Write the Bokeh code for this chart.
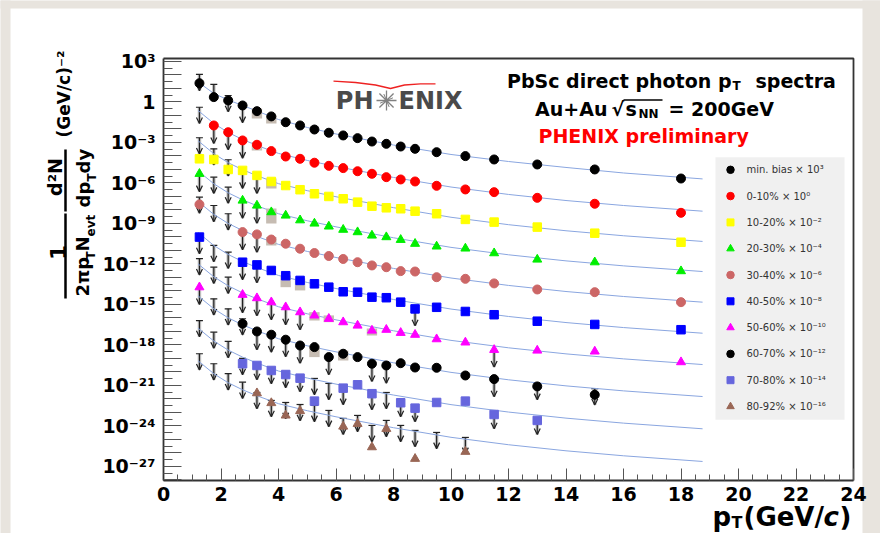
import math
from bokeh.plotting import figure
from bokeh.models import Range1d, FixedTicker, ColumnDataSource, Label, Arrow, OpenHead
from bokeh.embed import file_html
from bokeh.resources import INLINE

# ------------------------------------------------------------------ data
x_ticks = [0, 2, 4, 6, 8, 10, 12, 14, 16, 18, 20, 22, 24]
x_minor = [i * 0.5 for i in range(49)]
y_label_exp = [3, 0, -3, -6, -9, -12, -15, -18, -21, -24, -27]
y_decades = list(range(-28, 4))

# fit curves (log10 values)
fit_pt = [1.2, 1.75, 2.25, 2.75, 3.25, 4.0, 5.0, 6.0, 8.0, 10.0, 12.0, 14.0, 16.0, 18.75]
fit_minbias_log = [1.48, 0.63, 0.15, -0.26, -0.67, -1.30, -1.89, -2.37, -3.19, -3.89, -4.41, -4.85, -5.26, -5.70]
fit_0_10_log = [-0.63, -1.59, -2.26, -2.78, -3.22, -3.81, -4.33, -4.78, -5.59, -6.30, -6.85, -7.30, -7.67, -8.09]
# vertical level of each centrality curve relative to the 0-10% one (decades)
fit_offset = [None, 0.0, -2.24, -4.47, -6.74, -9.04, -11.36, -13.73, -16.12, -18.54]

legend_labels = ["min. bias \u00d7 10\u00b3", "0-10% \u00d7 10\u2070", "10-20% \u00d7 10\u207b\u00b2",
                 "20-30% \u00d7 10\u207b\u2074", "30-40% \u00d7 10\u207b\u2076", "40-50% \u00d7 10\u207b\u2078",
                 "50-60% \u00d7 10\u207b\u00b9\u2070", "60-70% \u00d7 10\u207b\u00b9\u00b2",
                 "70-80% \u00d7 10\u207b\u00b9\u2074", "80-92% \u00d7 10\u207b\u00b9\u2076"]

pt_all = [1.25, 1.75, 2.25, 2.75, 3.25, 3.75, 4.25, 4.75, 5.25, 5.75, 6.25, 6.75,
          7.25, 7.75, 8.25, 8.75, 9.5, 10.5, 11.5, 13.0, 15.0, 18.0]
pt_from_275 = [1.25, 2.75, 3.25, 3.75, 4.25, 4.75, 5.25, 5.75, 6.25, 6.75,
               7.25, 7.75, 8.25, 8.75, 9.5, 10.5, 11.5, 13.0, 15.0, 18.0]

# min. bias x 10^3
minbias_pt = pt_all
minbias_log = [1.39, 0.36, 0.11, -0.26, -0.68, -1.07, -1.50, -1.74, -2.04, -2.28, -2.48, -2.68,
               -2.93, -3.10, -3.30, -3.47, -3.72, -4.01, -4.26, -4.63, -5.00, -5.67]
minbias_ul_pt = [1.25, 1.75, 2.25, 2.75]
minbias_ul_log = [2.04, 1.30, 0.48, -0.33]
minbias_sys = ([3.25, 3.75], [-1.22, -1.59], [-0.48, -1.00])

# 0-10% x 10^0
c0_10_pt = pt_all[1:]
c0_10_log = [-1.74, -2.24, -2.85, -3.17, -3.64, -4.04, -4.21, -4.50, -4.73, -4.90, -5.13,
             -5.32, -5.57, -5.74, -5.89, -6.21, -6.48, -6.68, -7.10, -7.54, -8.21]
c0_10_ul_pt = [1.25, 1.75, 2.25, 2.75]
c0_10_ul_log = [-0.39, -1.87, -2.33, -2.96]
c0_10_sys = ([3.25], [-3.59], [-2.98])

# 10-20% x 10^-2
c10_20_pt = pt_all
c10_20_log = [-4.21, -4.26, -5.00, -5.07, -5.44, -5.89, -6.19, -6.50, -6.80, -7.00, -7.17, -7.42,
              -7.72, -7.84, -7.91, -8.09, -8.28, -8.70, -8.90, -9.27, -9.72, -10.39]
c10_20_ul_pt = [1.25, 1.75, 2.25, 2.75, 3.25]
c10_20_ul_log = [-2.65, -3.47, -4.28, -5.20, -5.57]
c10_20_sys = ([3.75], [-6.41], [-5.67])

# 20-30% x 10^-4
c20_30_pt = pt_from_275
c20_30_log = [-5.32, -7.30, -7.67, -8.16, -8.41, -8.76, -9.00, -9.22, -9.46, -9.64, -9.89,
              -10.01, -10.21, -10.50, -10.70, -10.85, -11.20, -11.67, -11.87, -12.53]
c20_30_ul_pt = [1.25, 1.75, 2.25, 2.75, 3.25]
c20_30_ul_log = [-5.44, -5.57, -6.31, -7.42, -7.79]
c20_30_sys = ([3.75], [-9.00], [-7.89])

# 30-40% x 10^-6
c30_40_pt = pt_from_275
c30_40_log = [-7.59, -9.64, -9.81, -10.19, -10.50, -10.87, -11.19, -11.41, -11.63, -11.87, -12.11,
              -12.24, -12.53, -12.56, -12.98, -13.10, -13.44, -13.89, -14.09, -14.83]
c30_40_ul_pt = [1.25, 1.75, 2.25, 2.75, 3.25]
c30_40_ul_log = [-7.05, -7.67, -8.28, -9.74, -9.93]
c30_40_sys = ([3.75], [-10.63], [-10.01])

# 40-50% x 10^-8
c40_50_pt = pt_from_275
c40_50_log = [-10.01, -11.87, -12.07, -12.48, -12.87, -13.22, -13.47, -13.72, -14.06, -14.09, -14.46,
              -14.50, -14.83, -15.33, -15.21, -15.52, -15.76, -16.24, -16.48, -16.87]
c40_50_ul_pt = [1.25, 1.75, 2.25, 2.75, 3.25, 8.75]
c40_50_ul_log = [-10.04, -10.63, -11.13, -11.96, -12.19, -15.37]
c40_50_sys = ([4.25, 4.75], [-13.72, -13.96], [-12.85, -13.07])

# 50-60% x 10^-10
c50_60_pt = pt_from_275
c50_60_log = [-13.72, -14.28, -14.53, -14.83, -15.20, -15.57, -15.81, -16.06, -16.31, -16.56, -16.93,
              -16.87, -17.10, -17.24, -17.57, -17.81, -18.36, -18.41, -18.48, -19.27]
c50_60_ul_pt = [1.25, 1.75, 2.25, 2.75, 3.25, 3.75, 4.25, 4.75, 11.5]
c50_60_ul_log = [-11.61, -12.24, -12.98, -14.41, -14.63, -14.93, -15.30, -15.67, -18.44]
c50_60_sys = ([5.25, 5.75, 7.25], [-16.19, -16.31, -17.30], [-15.57, -15.81, -16.78])

# 60-70% x 10^-12
c60_70_pt = [2.75, 3.25, 3.75, 4.25, 4.75, 5.25, 5.75, 6.25, 6.75, 7.25, 7.75, 8.25,
             8.75, 9.5, 10.5, 11.5, 13.0, 15.0]
c60_70_log = [-16.43, -17.00, -17.24, -17.61, -18.04, -18.16, -18.90, -18.65, -18.90, -19.39,
              -19.52, -19.35, -19.67, -19.69, -20.26, -20.53, -21.07, -21.69]
c60_70_ul_pt = [1.25, 1.75, 2.25, 2.75, 3.25, 3.75, 4.25, 4.75, 5.75, 7.25, 7.75, 11.5, 13.0, 15.0]
c60_70_ul_log = [-13.81, -14.58, -15.32, -16.06, -17.15, -17.33, -17.67, -18.15, -19.00, -19.50,
                 -19.63, -20.63, -20.85, -21.24]
c60_70_sys = ([5.25, 6.25], [-18.90, -19.15], [-18.04, -18.41])

# 70-80% x 10^-14
c70_80_pt = [2.75, 3.25, 3.75, 4.25, 4.75, 5.25, 6.25, 6.75, 7.25, 8.25, 8.75, 9.5, 10.5, 11.5, 13.0]
c70_80_log = [-19.39, -19.52, -19.89, -20.19, -20.46, -22.16, -21.20, -20.95, -21.61, -22.28,
              -22.68, -22.26, -22.16, -23.15, -23.59]
c70_80_ul_pt = [1.25, 1.75, 2.25, 2.75, 3.25, 3.75, 4.25, 4.75, 5.25, 5.75, 6.25, 7.25, 7.75,
                8.25, 8.75, 11.5, 13.0]
c70_80_ul_log = [-16.19, -17.05, -17.74, -19.00, -19.37, -19.67, -19.96, -20.26, -20.48, -20.85,
                 -21.22, -21.59, -21.52, -22.11, -22.48, -23.00, -23.44]
c70_80_sys = ([], [], [])

# 80-92% x 10^-16
c80_92_pt = [3.25, 3.75, 4.25, 4.75, 6.25, 6.75, 7.25, 7.75, 8.75, 10.5]
c80_92_log = [-21.57, -22.30, -23.22, -22.89, -24.04, -23.84, -25.57, -24.21, -26.43, -25.91]
c80_92_ul_pt = [1.25, 1.75, 2.25, 2.75, 3.25, 3.75, 4.25, 4.75, 5.25, 5.75, 6.25, 6.75,
                7.25, 7.75, 8.25, 8.75, 9.5, 10.5]
c80_92_ul_log = [-18.65, -19.39, -20.13, -20.76, -21.52, -22.11, -22.26, -22.41, -22.48, -22.85,
                 -23.44, -23.22, -23.96, -23.59, -23.96, -24.33, -24.48, -24.85]
c80_92_sys = ([], [], [])

series = [
    (minbias_pt, minbias_log, minbias_ul_pt, minbias_ul_log, minbias_sys, "#000000", "circle"),
    (c0_10_pt, c0_10_log, c0_10_ul_pt, c0_10_ul_log, c0_10_sys, "#ff0000", "circle"),
    (c10_20_pt, c10_20_log, c10_20_ul_pt, c10_20_ul_log, c10_20_sys, "#ffff00", "square"),
    (c20_30_pt, c20_30_log, c20_30_ul_pt, c20_30_ul_log, c20_30_sys, "#00ee00", "triangle"),
    (c30_40_pt, c30_40_log, c30_40_ul_pt, c30_40_ul_log, c30_40_sys, "#cc6666", "circle"),
    (c40_50_pt, c40_50_log, c40_50_ul_pt, c40_50_ul_log, c40_50_sys, "#0000ff", "square"),
    (c50_60_pt, c50_60_log, c50_60_ul_pt, c50_60_ul_log, c50_60_sys, "#ff00ff", "triangle"),
    (c60_70_pt, c60_70_log, c60_70_ul_pt, c60_70_ul_log, c60_70_sys, "#000000", "circle"),
    (c70_80_pt, c70_80_log, c70_80_ul_pt, c70_80_ul_log, c70_80_sys, "#6666dd", "square"),
    (c80_92_pt, c80_92_log, c80_92_ul_pt, c80_92_ul_log, c80_92_sys, "#996655", "triangle"),
]

# ------------------------------------------------------------------ layout helpers
FONT = "DejaVu Sans"
BEIGE = "#e8e4de"
W, H = 880, 533                      # canvas = page pixels (page margin is 0)
Y_LO, Y_HI = -28.04, 3.22            # plotted y range (log10)
FR_L, FR_R, FR_T, FR_B = 163, 853, 58, 480      # plot box in page pixels


def X(px):
    return (px - FR_L) / (FR_R - FR_L) * 24.0


def Y(py):
    return 10 ** (Y_HI - (py - FR_T) / (FR_B - FR_T) * (Y_HI - Y_LO))


SUP = str.maketrans("0123456789-", "\u2070\u00b9\u00b2\u00b3\u2074\u2075\u2076\u2077\u2078\u2079\u207b")


def tick_text(e):
    if e not in y_label_exp:
        return ""
    return "1" if e == 0 else "10" + str(e).translate(SUP)


p = figure(width=W, height=H, x_range=Range1d(X(0), X(W)),
           y_range=Range1d(Y(H), Y(0)), y_axis_type="log",
           output_backend="svg", toolbar_location=None, min_border=0,
           background_fill_color="white", border_fill_color=BEIGE)
p.xgrid.visible = False
p.ygrid.visible = False
p.outline_line_color = None

# beige page strips around the white panel
p.quad(left=[X(-5), X(-5), X(862)], right=[X(10), X(W + 5), X(W + 5)],
       top=[Y(-5), Y(-5), Y(-5)], bottom=[Y(H + 5), Y(8), Y(H + 5)],
       fill_color=BEIGE, line_color=None)

y_major = [10.0 ** e for e in y_decades]
p.yaxis.ticker = FixedTicker(ticks=y_major, minor_ticks=[10.0 ** (e + 0.5) for e in y_decades[:-1]])
p.yaxis.major_label_overrides = {v: tick_text(e) for v, e in zip(y_major, y_decades)}
p.yaxis.fixed_location = 0
p.yaxis.bounds = (10 ** Y_LO, 10 ** Y_HI)
p.xaxis.ticker = FixedTicker(ticks=x_ticks, minor_ticks=x_minor)
p.xaxis.fixed_location = 10 ** Y_LO
p.xaxis.bounds = (0, 24)
for ax in (p.xaxis[0], p.yaxis[0]):
    ax.axis_line_color = "#333333"
    ax.axis_line_width = 1.8
    ax.major_tick_line_color = "#555555"
    ax.minor_tick_line_color = "#555555"
    ax.major_tick_out = 0
    ax.minor_tick_out = 0
    ax.major_label_text_font = FONT
    ax.major_label_text_font_style = "bold"
    ax.major_label_text_color = "black"
p.xaxis.major_tick_in = 12
p.xaxis.minor_tick_in = 6
p.xaxis.major_label_text_font_size = "19px"
p.xaxis.major_label_standoff = 6
p.yaxis.major_tick_in = 18
p.yaxis.minor_tick_in = 9
p.yaxis.major_label_text_font_size = "19px"
p.yaxis.major_label_standoff = 8

# top and right edges of the plot box
p.line([0, 24, 24], [10 ** Y_HI, 10 ** Y_HI, 10 ** Y_LO], line_color="#333333", line_width=1.8)

ARROW_DEC = 1.2          # arrow length in decades
BOX_HALF = 0.18          # half-width of systematic boxes in pT units

# upper-limit arrows (drawn beneath curves and markers)
for s in series:
    upt, ulog = s[2], s[3]
    src = ColumnDataSource(dict(x=upt, y0=[10 ** v for v in ulog],
                                y1=[10 ** (v - ARROW_DEC) for v in ulog]))
    p.segment(x0="x", y0="y0", x1="x", y1="y1", source=src, line_color="#a8a8a8",
              line_width=3.5, line_alpha=0.7, level="underlay")
    p.add_layout(Arrow(x_start="x", y_start="y0", x_end="x", y_end="y1", source=src,
                       line_color="#222222", line_width=1.2, level="underlay",
                       end=OpenHead(size=6, line_color="#222222", line_width=1.2)))
    p.scatter(x="x", y="y0", source=src, marker="dash", size=7, line_color="#222222",
              line_width=1.2, level="underlay")

# fit curves
for i, s in enumerate(series):
    if fit_offset[i] is None:
        ys = [10 ** v for v in fit_minbias_log]
    else:
        ys = [10 ** (v + fit_offset[i]) for v in fit_0_10_log]
    p.line(fit_pt, ys, line_color="#8aa6e0", line_width=1)

# systematic boxes
for s in series:
    spt, lo, hi = s[4]
    if spt:
        p.quad(left=[v - BOX_HALF for v in spt], right=[v + BOX_HALF for v in spt],
               bottom=[10 ** v for v in lo], top=[10 ** v for v in hi],
               fill_color="#c6bcb2", line_color=None)

# markers
for s in series:
    mpt, mlog, col, mk = s[0], s[1], s[5], s[6]
    size = 9 if mk != "square" else 8.5
    p.scatter(mpt, [10 ** v for v in mlog], marker=mk, size=size,
              fill_color=col, line_color=col)

# legend
p.quad(left=[X(715)], right=[X(844)], top=[Y(156.7)], bottom=[Y(419.3)],
       fill_color="#f0f0f0", line_color=None)
for i, s in enumerate(series):
    ry = Y(169.3 + 26.3 * i)
    mk = s[6]
    p.scatter([X(730)], [ry], marker=mk, size=7.5 if mk != "square" else 7,
              fill_color=s[5], line_color=s[5])
    p.add_layout(Label(x=X(746), y=ry, text=legend_labels[i], text_font=FONT,
                       text_font_size="10px", text_color="#333333", text_baseline="middle"))


def lab(px, py, text, size, color="black", align="left", angle=0.0, style="bold"):
    p.add_layout(Label(x=X(px), y=Y(py), text=text, text_font=FONT,
                       text_font_size=f"{size}px", text_font_style=style, text_color=color,
                       text_align=align, text_baseline="middle", angle=angle))


# header texts
lab(731, 80.7, "PbSc direct photon p", 19, align="right")
lab(732, 85, "T", 12)
lab(755, 80.7, "spectra", 19)
lab(607, 108.3, "Au+Au", 19, align="right")
lab(611, 108.3, "\u221a", 19)
lab(625, 108.3, "s", 19)
lab(638, 113, "NN", 12)
lab(668, 108.3, "= 200GeV", 19)
p.line([X(623), X(662)], [Y(99.5), Y(99.5)], line_color="black", line_width=1.5)
lab(538, 135, "PHENIX preliminary", 19, color="#ff0000")

# PHENIX logo
lab(373, 100.5, "PH", 24, color="#4a4a4a", align="right")
lab(398, 100.5, "ENIX", 24, color="#4a4a4a")
p.scatter([X(386)], [Y(100)], marker="asterisk", size=20, line_color="#808080", line_width=1.3)
p.scatter([X(386)], [Y(100)], marker="cross", size=14, line_color="#808080", line_width=1,
          angle=math.pi / 8)
logo_arc_x = [333, 355, 375, 390, 404, 420, 435]
logo_arc_y = [80.7, 82.0, 84.5, 88.0, 84.5, 83.3, 83.3]
p.line([X(v) for v in logo_arc_x], [Y(v) for v in logo_arc_y], line_color="#ee2222", line_width=1.3)

# x axis title
lab(712, 516, "p", 26)
lab(731, 522, "T", 16)
lab(743, 516, "(GeV/", 26)
lab(823, 516, "c", 26, style="bold italic")
lab(839, 516, ")", 26)

# y axis title (rotated)
UP = math.pi / 2
lab(63, 137, "(GeV/c)\u207b\u00b2", 17, angle=UP)
lab(54, 176.5, "d\u00b2N", 19, angle=UP, align="center")
lab(83, 207, "dp", 18, angle=UP)
lab(91, 181, "T", 12, angle=UP)
lab(83, 173, "dy", 18, angle=UP)
lab(57, 252, "1", 21, angle=UP, align="center")
lab(82, 296, "2\u03c0p", 18, angle=UP)
lab(90, 259, "T", 12, angle=UP)
lab(82, 251, "N", 18, angle=UP)
lab(90, 236, "evt", 12, angle=UP)
for (y0, y1) in [(149, 211), (213, 298)]:
    p.line([X(65), X(65)], [Y(y0), Y(y1)], line_color="black", line_width=2.5)

open("out.html", "w").write(file_html(p, INLINE))
